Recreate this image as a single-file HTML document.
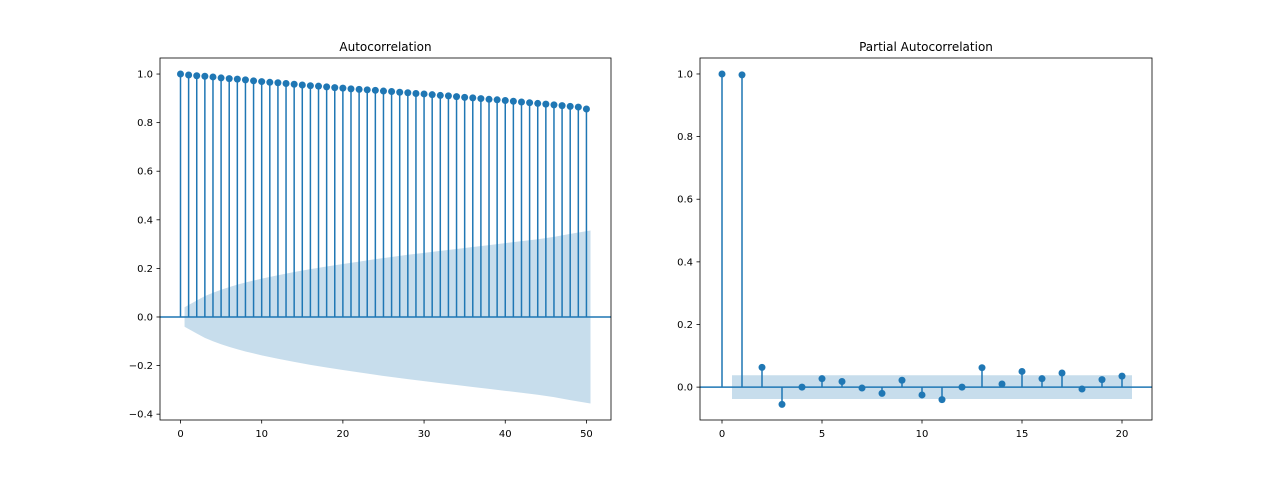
<!DOCTYPE html>
<html><head><meta charset="utf-8"><style>body{margin:0;background:#fff}svg{display:block;font-family:"DejaVu Sans","Liberation Sans",sans-serif}</style></head>
<body>
<svg id="c" width="1280" height="480"></svg>
<script>
const acfLags=[...Array(51).keys()];
const acfVals=[1.0,0.996,0.993,0.991,0.988,0.984,0.981,0.979,0.976,0.972,0.969,0.966,0.964,0.961,0.958,0.955,0.952,0.950,0.947,0.944,0.942,0.939,0.937,0.935,0.933,0.930,0.928,0.925,0.923,0.920,0.918,0.915,0.912,0.910,0.907,0.904,0.902,0.899,0.896,0.894,0.891,0.888,0.885,0.882,0.879,0.876,0.873,0.870,0.867,0.864,0.856];
const acfBandX=[0.5,2,3,4,5,6,7,8,9,10,12,14,16,18,20,22,24,26,28,30,32,34,36,38,40,42,44,46,48,50.5];
const acfBand=[0.04,0.068,0.086,0.100,0.112,0.123,0.133,0.142,0.150,0.158,0.172,0.185,0.197,0.208,0.218,0.228,0.238,0.247,0.256,0.264,0.272,0.280,0.288,0.296,0.304,0.312,0.320,0.330,0.342,0.356];
const pacfLags=[...Array(21).keys()];
const pacfVals=[1.0,0.997,0.063,-0.055,0.0,0.027,0.018,-0.003,-0.02,0.022,-0.025,-0.04,0.0,0.062,0.01,0.05,0.027,0.045,-0.006,0.024,0.035];
const pacfBand=0.038;
const acfYTicks=[-0.4,-0.2,0.0,0.2,0.4,0.6,0.8,1.0];
const acfXTicks=[0,10,20,30,40,50];
const pacfYTicks=[0.0,0.2,0.4,0.6,0.8,1.0];
const pacfXTicks=[0,5,10,15,20];
const NS='http://www.w3.org/2000/svg';const svg=document.getElementById('c');
function mk(t,a,p){const e=document.createElementNS(NS,t);for(const k in a)e.setAttribute(k,a[k]);(p||svg).appendChild(e);return e;}
function panel(o){
 const L=o.L,R=o.R,T=58,B=420;
 const x=v=>L+(v-o.x0)/(o.x1-o.x0)*(R-L), y=v=>B-(v-o.y0)/(o.y1-o.y0)*(B-T);
 const g=mk('g',{});
 let d='';
 if(o.bandX){d='M'+o.bandX.map((b,i)=>x(b)+','+y(o.band[i])).join('L');for(let i=o.bandX.length-1;i>=0;i--)d+='L'+x(o.bandX[i])+','+y(-o.band[i]);}
 else{d=`M${x(0.5)},${y(o.band)}L${x(20.5)},${y(o.band)}L${x(20.5)},${y(-o.band)}L${x(0.5)},${y(-o.band)}`;}
 const band=mk('path',{d:d+'Z',fill:'#1f77b4','fill-opacity':0.25},g);
 o.lags.forEach((l,i)=>{const s=mk('line',{x1:x(l),x2:x(l),y1:y(0),y2:y(o.vals[i]),stroke:'#1f77b4','stroke-width':1.5},g);});
 const zl=mk('line',{x1:L,x2:R,y1:y(0),y2:y(0),stroke:'#1f77b4','stroke-width':1.5},g);
 o.lags.forEach((l,i)=>{const m=mk('circle',{cx:x(l),cy:y(o.vals[i]),r:3.5,fill:'#1f77b4'},g);});
 const fr=mk('rect',{x:L,y:T,width:R-L,height:B-T,fill:'none',stroke:'#000','stroke-width':0.8},g);
 o.xt.forEach(t=>{mk('line',{x1:x(t),x2:x(t),y1:B,y2:B+3.5,stroke:'#000','stroke-width':0.8},g);const tx=mk('text',{x:x(t),y:B+17,'font-size':10,'text-anchor':'middle'},g);tx.textContent=t;});
 o.yt.forEach(t=>{mk('line',{x1:L,x2:L-3.5,y1:y(t),y2:y(t),stroke:'#000','stroke-width':0.8},g);const tx=mk('text',{x:L-7,y:y(t)+3.5,'font-size':10,'text-anchor':'end'},g);tx.textContent=t<0?'\u2212'+(-t).toFixed(1):t.toFixed(1);});
 const ti=mk('text',{x:(L+R)/2,y:T-7,'font-size':12,'text-anchor':'middle'},g);ti.textContent=o.title;
}
panel({name:'acf-panel',title:'Autocorrelation',L:160,R:611,x0:-2.525,x1:53.025,y0:-0.424,y1:1.066,lags:acfLags,vals:acfVals,bandX:acfBandX,band:acfBand,xt:acfXTicks,yt:acfYTicks});
panel({name:'pacf-panel',title:'Partial Autocorrelation',L:700,R:1152,x0:-1.1,x1:21.5,y0:-0.105,y1:1.051,lags:pacfLags,vals:pacfVals,band:pacfBand,xt:pacfXTicks,yt:pacfYTicks});
</script>
</body></html>
